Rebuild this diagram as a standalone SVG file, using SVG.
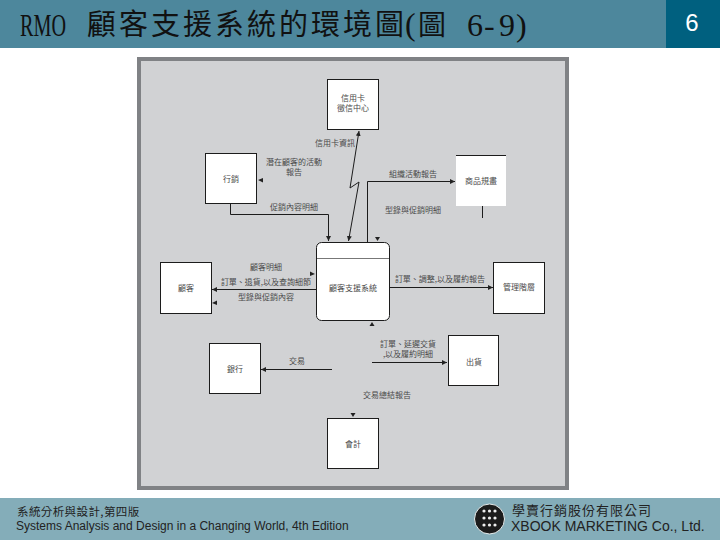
<svg xmlns="http://www.w3.org/2000/svg" width="720" height="540" viewBox="0 0 720 540">
<defs>
<marker id="ah" markerUnits="userSpaceOnUse" markerWidth="6" markerHeight="5" refX="5" refY="2.500" orient="auto-start-reverse"><path d="M0 0L5 2.500L0 5Z" fill="#222"/></marker>
</defs>
<style>
.n{fill:#fff;stroke:#1c1c1c;stroke-width:1}
.c{fill:none;stroke:#1c1c1c;stroke-width:1}
.h{fill:#222}
text{font-family:"Liberation Sans","Noto Sans CJK TC",sans-serif}
.t{font-size:32px;fill:#111;font-family:"Liberation Serif","Noto Sans CJK TC",serif}
.l{font-size:8px;fill:#4a4a4a;text-anchor:middle;font-family:"Noto Sans CJK TC",sans-serif}
</style>
<rect width="720" height="540" fill="#fff"/>
<rect width="720" height="48" fill="#4d879c"/>
<rect x="666" width="54" height="48" fill="#00607f"/>
<rect y="498" width="720" height="42" fill="#84adb9"/>
<text class="t" x="20" y="36" textLength="46" lengthAdjust="spacingAndGlyphs">RMO</text>
<text class="t" x="87 119 151 183 215 247 279 311 343 375" y="35" style="font-size:29px">顧客支援系統的環境圖</text>
<text class="t" x="405" y="35">(</text>
<text class="t" x="418" y="35" style="font-size:28px">圖</text>
<text class="t" x="467 484 499 516" y="36">6-9)</text>
<text x="692" y="31" font-size="24" fill="#fff" text-anchor="middle">6</text>
<text x="17" y="516" font-size="11.500" fill="#222" letter-spacing="0.400" style="font-family:'Noto Sans CJK TC',sans-serif">系統分析與設計,第四版</text>
<text x="16" y="530" font-size="12" fill="#222">Systems Analysis and Design in a Changing World, 4th Edition</text>
<text x="512" y="515" font-size="13" fill="#222" letter-spacing="1" style="font-family:'Noto Sans CJK TC',sans-serif">學賣行銷股份有限公司</text>
<text x="511" y="531" font-size="14" fill="#222">XBOOK MARKETING Co., Ltd.</text>
<g id="logo"><ellipse cx="489.500" cy="519" rx="15" ry="15" fill="#1c1c1c" stroke="#e8eeee"/><g fill="#eee"><circle cx="484" cy="511" r="1.600"/><circle cx="489.500" cy="511" r="1.600"/><circle cx="495" cy="511" r="1.600"/><circle cx="484" cy="518" r="1.600"/><circle cx="489.500" cy="518" r="1.600"/><circle cx="495" cy="518" r="1.600"/><circle cx="484" cy="525" r="1.600"/><circle cx="489.500" cy="525" r="1.600"/><circle cx="495" cy="525" r="1.600"/></g></g>
<rect x="139" y="59" width="428" height="429" fill="#d1d2d4" stroke="#808285" stroke-width="4"/>
<g id="connectors">
<path class="c" d="M230.500 203V214.500H328.500V241" marker-end="url(#ah)"/>
<path class="c" d="M359 131L350 188L359 182L348.500 241" marker-start="url(#ah)" marker-end="url(#ah)"/>
<path class="c" d="M367.500 242V181.500H455" marker-end="url(#ah)"/>
<path class="c" d="M482.500 206V218"/>
<path class="c" d="M316 289.500H212" marker-end="url(#ah)"/>
<path class="c" d="M389 287.500H493" marker-end="url(#ah)"/>
<path class="c" d="M372 362.500H447" marker-end="url(#ah)"/>
<path class="c" d="M332 369.500H261" marker-end="url(#ah)"/>
<path class="h" d="M263 178V182.500L258 180Z"/>
<path class="h" d="M375 237H380L377.500 241Z"/>
<path class="h" d="M217 300.500V305L212 303Z"/>
<path class="h" d="M310 271.500V276L315 274Z"/>
<path class="h" d="M369.500 326H374.500L372 322Z"/>
<path class="h" d="M350.500 413H355.500L353 417Z"/>
</g>
<g id="credit"><rect class="n" x="327.500" y="79.500" width="51" height="50"/><text class="l" x="353" y="101">信用卡</text><text class="l" x="353" y="111">徵信中心</text></g>
<g id="marketing"><rect class="n" x="205.500" y="153.500" width="51" height="50"/><text class="l" x="231" y="182">行銷</text></g>
<g id="merch"><rect x="456" y="155" width="50" height="51" fill="#fff"/><path class="c" d="M456 155.500H506"/><text class="l" x="481" y="184">商品規畫</text></g>
<g id="customer"><rect class="n" x="160.500" y="262.500" width="51" height="51"/><text class="l" x="186" y="291">顧客</text></g>
<g id="system"><rect class="n" x="316.500" y="242.500" width="73" height="78" rx="5"/><path d="M317 258.500H389" stroke="#777" fill="none"/><text class="l" x="353" y="291">顧客支援系統</text></g>
<g id="management"><rect class="n" x="493.500" y="262.500" width="51" height="51"/><text class="l" x="519" y="290">管理階層</text></g>
<g id="bank"><rect class="n" x="209.500" y="343.500" width="51" height="50"/><text class="l" x="235" y="372">銀行</text></g>
<g id="shipping"><rect class="n" x="448.500" y="335.500" width="50" height="50"/><text class="l" x="474" y="365">出貨</text></g>
<g id="accounting"><rect class="n" x="327.500" y="418.500" width="51" height="50"/><text class="l" x="353" y="447">會計</text></g>
<g id="labels">
<text class="l" x="335" y="146">信用卡資訊</text>
<text class="l" x="294" y="165">潛在顧客的活動</text>
<text class="l" x="294" y="175">報告</text>
<text class="l" x="294" y="210">促銷內容明細</text>
<text class="l" x="413" y="177">組織活動報告</text>
<text class="l" x="413" y="213">型錄與促銷明細</text>
<text class="l" x="266" y="270">顧客明細</text>
<text class="l" x="266" y="285">訂單、退貨,以及查詢細節</text>
<text class="l" x="266" y="300">型錄與促銷內容</text>
<text class="l" x="440" y="282">訂單、調整,以及履約報告</text>
<text class="l" x="408" y="347">訂單、延遲交貨</text>
<text class="l" x="408" y="357">,以及履約明細</text>
<text class="l" x="297" y="364">交易</text>
<text class="l" x="387" y="398">交易總結報告</text>
</g>
</svg>
